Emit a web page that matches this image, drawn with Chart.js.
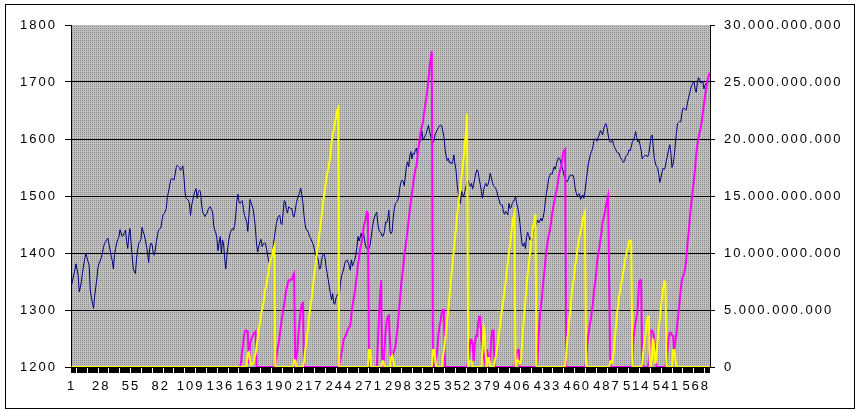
<!DOCTYPE html>
<html>
<head>
<meta charset="utf-8">
<script src="https://cdn.jsdelivr.net/npm/chart.js@4.4.0/dist/chart.umd.min.js"></script>
<style>
  html, body { margin: 0; padding: 0; background: #fff; }
  canvas { display: block; }
</style>
</head>
<body>
<canvas id="chart" width="861" height="413"></canvas>
<script>
// categories are just the running day number 1..580
const categories = Array.from({length: 580}, (_, i) => String(i + 1));
const labelStep = 27;

// left axis, index level
const price = [
1344,1352,1361,1370,1381,1372,1361,1332,1340,1350,
1366,1379,1390,1400,1392,1385,1378,1335,1322,1312,
1303,1325,1340,1356,1375,1382,1386,1392,1400,1410,
1417,1420,1424,1426,1415,1405,1394,1386,1372,1398,
1408,1418,1424,1428,1441,1435,1429,1431,1436,1440,
1420,1408,1430,1443,1418,1395,1372,1367,1364,1390,
1405,1417,1420,1424,1445,1438,1432,1423,1412,1400,
1383,1410,1417,1416,1402,1396,1405,1420,1432,1440,
1442,1444,1455,1467,1469,1473,1478,1499,1507,1518,
1528,1531,1529,1528,1538,1550,1554,1552,1550,1545,
1548,1553,1534,1506,1496,1494,1493,1486,1466,1484,
1492,1502,1508,1513,1496,1507,1510,1508,1486,1472,
1468,1464,1467,1470,1476,1480,1481,1476,1472,1448,
1440,1435,1424,1404,1418,1429,1400,1423,1416,1390,
1372,1396,1412,1426,1435,1440,1443,1440,1448,1465,
1490,1503,1490,1487,1490,1492,1476,1466,1460,1455,
1438,1465,1494,1488,1482,1475,1460,1440,1414,1402,
1412,1420,1424,1411,1416,1418,1417,1407,1395,1385,
1380,1391,1400,1412,1426,1440,1452,1462,1465,1466,
1452,1450,1470,1492,1490,1476,1470,1481,1479,1478,
1478,1466,1463,1474,1487,1495,1500,1506,1514,1502,
1488,1466,1450,1441,1440,1436,1429,1426,1421,1417,
1410,1400,1395,1393,1388,1372,1373,1388,1396,1400,
1392,1376,1364,1353,1340,1329,1318,1329,1312,1310,
1321,1326,1328,1323,1345,1360,1365,1372,1382,1386,
1388,1384,1378,1370,1388,1377,1383,1388,1396,1410,
1429,1421,1428,1435,1423,1434,1422,1411,1408,1405,
1408,1414,1428,1444,1456,1463,1468,1472,1452,1440,
1437,1435,1429,1430,1438,1454,1453,1460,1475,1438,
1434,1438,1462,1478,1487,1489,1492,1499,1515,1524,
1528,1526,1518,1535,1552,1560,1551,1570,1578,1565,
1575,1573,1580,1584,1572,1587,1594,1602,1614,1598,
1602,1606,1610,1618,1624,1613,1605,1598,1594,1598,
1608,1612,1616,1620,1623,1625,1623,1614,1604,1582,
1570,1562,1566,1558,1560,1556,1560,1572,1556,1545,
1520,1505,1494,1487,1508,1502,1500,1508,1516,1524,
1528,1520,1517,1522,1512,1520,1531,1540,1546,1543,
1530,1520,1508,1496,1510,1518,1522,1517,1520,1528,
1540,1533,1524,1518,1516,1513,1508,1500,1493,1486,
1484,1484,1472,1468,1473,1470,1467,1487,1478,1480,
1487,1490,1494,1499,1487,1480,1468,1452,1432,1414,
1412,1418,1408,1428,1436,1430,1423,1427,1421,1436,
1440,1445,1452,1458,1453,1456,1461,1456,1462,1472,
1490,1505,1516,1530,1536,1540,1538,1544,1551,1547,
1555,1563,1567,1566,1560,1552,1545,1536,1530,1527,
1525,1530,1535,1537,1536,1537,1531,1515,1506,1500,
1503,1504,1494,1498,1502,1496,1508,1524,1540,1556,
1565,1573,1578,1584,1596,1600,1600,1596,1603,1607,
1615,1612,1607,1618,1624,1627,1620,1608,1598,1594,
1595,1598,1590,1585,1581,1577,1575,1575,1568,1565,
1563,1559,1562,1569,1571,1574,1581,1579,1586,1595,
1598,1604,1613,1602,1595,1598,1590,1580,1565,1568,
1570,1572,1570,1569,1575,1590,1604,1607,1585,1566,
1556,1552,1549,1538,1524,1532,1542,1549,1547,1552,
1563,1572,1582,1590,1575,1550,1556,1569,1590,1610,
1627,1629,1631,1630,1645,1654,1654,1652,1651,1663,
1672,1680,1689,1694,1698,1701,1688,1682,1698,1708,
1705,1698,1700,1701,1688,1694,1698,1701,1700,1702
];

// right axis, in billions
const magenta = [
0,0,0,0,0,0,0,0,0,0,0,0,0,0,0,0,0,0,0,0,
0,0,0,0,0,0,0,0,0,0,0,0,0,0,0,0,0,0,0,0,
0,0,0,0,0,0,0,0,0,0,0,0,0,0,0,0,0,0,0,0,
0,0,0,0,0,0,0,0,0,0,0,0,0,0,0,0,0,0,0,0,
0,0,0,0,0,0,0,0,0,0,0,0,0,0,0,0,0,0,0,0,
0,0,0,0,0,0,0,0,0,0,0,0,0,0,0,0,0,0,0,0,
0,0,0,0,0,0,0,0,0,0,0,0,0,0,0,0,0,0,0,0,
0,0,0,0,0,0,0,0,0,0,0,0,0,0,0.5,1.5,2.2,3.0,3.2,3.2,
3.1,0.3,2.0,2.4,2.6,2.9,3.0,3.1,0,0,0,0,0,0,0,0,0,0,0,0,
0,0,0,0,0,0.2,0.9,1.6,2.1,2.8,3.6,4.3,4.9,5.5,6.2,6.8,7.2,7.6,7.6,7.6,
7.7,8.0,8.2,0.4,0.8,1.5,3.0,4.0,4.9,5.5,5.6,0,0,0,0,0,0,0,0,0,
0,0,0,0,0,0,0,0,0,0,0,0,0,0,0,0,0,0,0,0,
0,0,0,0,0.6,1.2,1.8,2.4,2.6,2.8,3.1,3.3,3.5,3.6,4.6,5.4,5.9,6.5,7.3,8.1,
9.0,9.6,10.4,10.8,11.3,12.2,12.6,13.0,13.6,13.5,0,0,0,0,0,0,0,0,2.0,4.4,
6.2,7.6,0,0,1.5,3.0,4.0,4.4,4.5,2.4,0.5,0.8,1.2,1.5,1.8,2.7,3.5,4.7,5.8,7.0,
7.9,8.8,9.8,10.5,11.2,12.0,12.9,13.7,14.6,15.2,16.0,16.7,17.3,17.6,18.4,19.3,20.0,20.7,21.1,21.5,
22.3,23.0,23.6,24.3,25.3,26.3,27.1,27.7,0,0,0,0.8,1.5,2.8,3.6,4.1,4.7,5.0,5.0,0,
0,0,0,0,0,0,0,0,0,0,0,0,0,0,0,0,0,0,0,0,
0.5,1.2,2.4,2.4,2.0,0.5,2.0,2.7,2.7,3.8,4.4,4.4,2.4,1.6,1.0,0.5,1.5,1.5,1.0,0.5,
0.5,2.5,3.2,3.2,0,0,0,0,0,0,0,0,0,0,0,0,0,0,0,0,
0,0,0,0.6,1.2,1.5,1.5,0,0,0,0,0,0,0,0,0,0,0,0,0,
0,0,0,0.8,2.8,4.4,5.3,6.1,7.3,8.2,9.2,10.2,10.9,11.5,11.9,12.5,13.3,13.9,14.4,15.0,
15.4,15.9,16.6,17.1,17.5,17.9,18.7,19.0,19.1,0,0,0,0,0,0,0,0,0,0,0,
0,0,0,0,0,0,0,0.5,1.9,2.7,3.5,4.0,4.7,5.4,6.4,7.3,8.0,9.2,9.9,10.4,
11.2,11.8,12.7,13.1,13.5,14.1,14.6,15.0,7.6,0,0,0,0,0,0,0,0,0,0,0,
0,0,0,0,0,0,0,0,0,0.5,2.4,3.3,3.9,4.5,5.3,7.4,7.6,7.6,0.3,0,
0,0,0,0,0.5,1.5,3.2,3.2,3.0,2.4,1.0,0,0,0,0,0,0,0,0,0,
0.5,1.5,2.6,3.0,3.0,2.8,2.7,1.5,2.2,3.0,4.0,4.8,5.8,6.9,7.6,8.0,8.2,8.7,9.5,10.7,
11.7,12.8,13.9,14.7,15.7,16.5,17.4,18.6,19.5,20.0,20.5,21.0,21.5,22.3,23.0,23.8,24.4,25.0,25.4,25.8
];

const yellow = [
0,0,0,0,0,0,0,0,0,0,0,0,0,0,0,0,0,0,0,0,
0,0,0,0,0,0,0,0,0,0,0,0,0,0,0,0,0,0,0,0,
0,0,0,0,0,0,0,0,0,0,0,0,0,0,0,0,0,0,0,0,
0,0,0,0,0,0,0,0,0,0,0,0,0,0,0,0,0,0,0,0,
0,0,0,0,0,0,0,0,0,0,0,0,0,0,0,0,0,0,0,0,
0,0,0,0,0,0,0,0,0,0,0,0,0,0,0,0,0,0,0,0,
0,0,0,0,0,0,0,0,0,0,0,0,0,0,0,0,0,0,0,0,
0,0,0,0,0,0,0,0,0,0,0,0,0,0,0,0,0,0,0,0.3,
1.2,1.3,0.5,0.2,0.3,0.3,0.8,1.2,1.9,2.6,3.3,3.9,4.6,5.1,5.5,6.3,6.9,7.3,7.9,8.5,
9.1,9.5,9.8,10.3,10.6,0,0,0,0,0,0,0,0,0,0,0,0,0,0,0,
0,0,0.6,0.6,0,0,0,0,0,0,0,0.5,1.4,2.1,2.9,3.6,4.7,5.5,6.0,7.0,
7.9,8.6,9.4,10.2,10.9,11.7,12.5,13.3,14.1,14.9,15.6,16.4,17.0,17.4,18.0,18.6,19.7,20.4,20.8,21.4,
21.9,22.5,22.7,0,0,0,0,0,0,0,0,0,0,0,0,0,0,0,0,0,
0,0,0,0,0,0,0,0,0,0,1.5,1.5,0,0,0,0,0,0,0,0,
0,0,0.5,0.5,0,0,0,0,0,0,0.8,1.0,0.6,0,0,0,0,0,0,0,
0,0,0,0,0,0,0,0,0,0,0,0,0,0,0,0,0,0,0,0,
0,0,0,0,0,0,0,0,1.5,1.5,0.8,0,0,0,0,0,0,0.8,1.5,2.3,
3.2,4.1,5.1,6.1,7.3,8.3,9.3,10.3,11.3,12.3,13.4,14.2,15.0,15.8,16.7,17.6,18.4,19.6,20.6,22.2,
0,0.5,0.5,0.5,0,0,0,0,0,0,0,0,0,1.5,3.5,3.0,1.0,0,0.8,0.8,
0,0,0,0,0.5,0.9,1.5,2.2,2.95,3.7,4.5,5.3,5.9,6.6,7.5,8.4,9.2,10.0,10.8,11.6,
12.6,13.1,13.5,0,0.5,0.6,0.5,0.3,0.5,2.2,3.6,4.7,6.0,7.2,8.2,9.0,9.9,10.8,11.5,12.3,
12.8,13.4,0,0,0,0,0,0,0,0,0,0,0,0,0,0,0,0,0,0,
0,0,0,0,0,0,0,0,0,1.2,2.4,3.5,4.3,5.1,6.5,7.2,7.8,8.8,9.5,10.2,
11.0,11.4,11.9,12.3,12.9,13.3,13.6,0,0,0,0,0,0,0,0,0,0,0,0,0,
0,0,0,0,0,0,0,0,0,0.5,0.5,0.4,1.2,2.4,3.5,4.5,5.4,6.2,6.7,7.3,
7.9,8.5,9.1,9.7,10.1,10.5,11.0,11.1,11.0,0,0,0,0,0,0,0,0,0,0.3,1.4,
2.2,2.9,3.7,4.4,4.4,0,0,1.0,2.5,1.5,0.3,1.2,2.4,3.4,4.3,5.3,6.1,6.9,7.5,7.4,
0,0,0,0,0,0,1.5,1.5,0.8,0,0,0,0,0,0,0,0,0,0,0,
0,0,0,0,0,0,0,0,0,0,0,0,0,0,0,0,0,0,0,0
];

const font = { family: "'Liberation Sans', Arial, sans-serif", size: 13 };

// little 2x2 tile, like the old excel dotted grey fill
function dotPattern(ctx) {
  const c = document.createElement('canvas');
  c.width = 2; c.height = 2;
  const g = c.getContext('2d');
  g.fillStyle = '#c0c0c0';
  g.fillRect(0, 0, 2, 2);
  g.fillStyle = '#8c8c8c';
  g.fillRect(0, 0, 1, 1);
  return ctx.createPattern(c, 'repeat');
}

const excelLook = {
  id: 'excelLook',
  beforeLayout(chart) { chart.ctx.letterSpacing = '2px'; },
  beforeDraw(chart) {
    const {ctx, chartArea: a} = chart;
    ctx.letterSpacing = '2px';
    ctx.save();
    ctx.fillStyle = dotPattern(ctx);
    ctx.fillRect(a.left, a.top, a.right - a.left, a.bottom - a.top);
    ctx.restore();
  },
  afterDraw(chart) {
    const ctx = chart.ctx;
    ctx.save();
    ctx.strokeStyle = '#000';
    ctx.lineWidth = 1;
    ctx.strokeRect(5.5, 4.5, 849, 404);
    ctx.restore();
  }
};

function dots(v) {
  return String(Math.round(v * 1e9)).replace(/\B(?=(\d{3})+(?!\d))/g, '.');
}

const line = { pointRadius: 0, tension: 0, fill: false, clip: {left: 2, top: 2, right: 2, bottom: 0} };

new Chart(document.getElementById('chart'), {
  type: 'line',
  data: {
    labels: categories,
    datasets: [
      { ...line, label: 'yellow', data: yellow, yAxisID: 'y2', borderColor: '#ffff00', borderWidth: 2, order: 1 },
      { ...line, label: 'magenta', data: magenta, yAxisID: 'y2', borderColor: '#ff00ff', borderWidth: 2, order: 2 },
      { ...line, label: 'index', data: price, yAxisID: 'y', borderColor: '#000080', borderWidth: 1, order: 3 }
    ]
  },
  options: {
    responsive: false,
    animation: false,
    events: [],
    layout: { padding: { top: 25, left: 0, right: 0, bottom: 0 } },
    plugins: { legend: { display: false }, tooltip: { enabled: false } },
    scales: {
      x: {
        type: 'category',
        offset: true,
        afterFit(s) { s.height = 46; },
        grid: { drawOnChartArea: false, tickLength: 6, tickColor: '#000' },
        border: { color: '#000' },
        ticks: {
          autoSkip: false, maxRotation: 0, minRotation: 0, padding: 6,
          color: '#000', font,
          callback(v, i) { return i % labelStep === 0 ? categories[i] : ''; }
        }
      },
      y: {
        position: 'left',
        min: 1200, max: 1800,
        afterFit(s) { s.width = 71; },
        ticks: { stepSize: 100, padding: 8, color: '#000', font, callback: (v) => String(v) },
        grid: {
          color: (c) => c.tick && c.tick.value === 1800 ? 'rgba(0,0,0,0)' : '#000',
          tickColor: '#000', tickLength: 6
        },
        border: { color: '#000' }
      },
      y2: {
        position: 'right',
        min: 0, max: 30,
        afterFit(s) { s.width = 151; },
        ticks: { stepSize: 5, padding: 9, color: '#000', font, callback: (v) => dots(v) },
        grid: { drawOnChartArea: false, tickColor: '#000', tickLength: 5 },
        border: { color: '#000' }
      }
    }
  },
  plugins: [excelLook]
});
</script>
</body>
</html>
